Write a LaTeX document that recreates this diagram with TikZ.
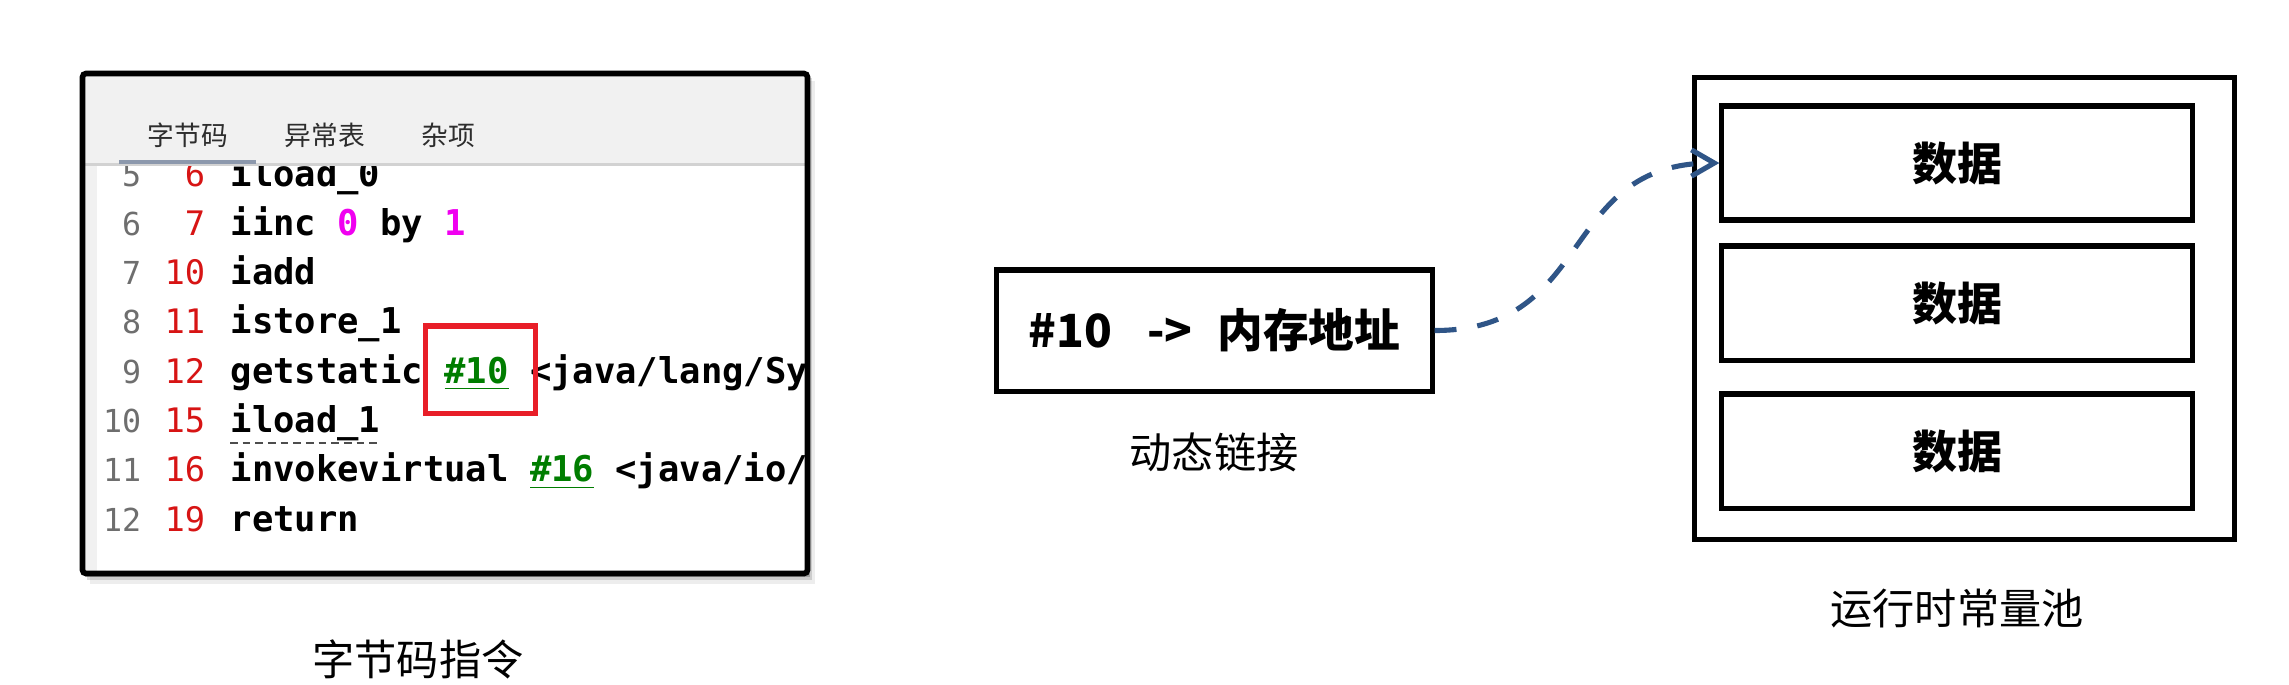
\documentclass[tikz,border=0pt]{standalone}
\usepackage{fontspec}
\setmainfont{Noto Sans CJK SC}
\newfontfamily\codefont{DejaVu Sans Mono}
\usetikzlibrary{arrows.meta}

\definecolor{linkblue}{RGB}{47,85,135}
\definecolor{lnogray}{RGB}{110,110,110}
\definecolor{offred}{RGB}{215,20,20}
\definecolor{constpink}{RGB}{240,0,240}
\definecolor{refgreen}{RGB}{0,125,0}
\definecolor{hlred}{RGB}{232,30,40}
\definecolor{hdgray}{RGB}{241,241,241}
\definecolor{hdline}{RGB}{210,210,210}
\definecolor{tabline}{RGB}{140,152,172}
\definecolor{tabgray}{RGB}{45,45,45}

\begin{document}
\begin{tikzpicture}[x={(0.01cm,0)},y={(0,-0.01cm)},
  >={Straight Barb[length=6.5pt,width=7.5pt]},
  lineno/.style={anchor=base east,inner sep=0pt,text=lnogray,font=\codefont\fontsize{9pt}{10pt}\selectfont},
  offset/.style={anchor=base east,inner sep=0pt,text=offred,font=\codefont\fontsize{9.6pt}{11pt}\selectfont},
  instr/.style={anchor=base west,inner sep=0pt,font=\codefont\bfseries\fontsize{10.1pt}{12pt}\selectfont},
  tab/.style={inner sep=0pt,text=tabgray,font=\fontsize{7.6pt}{9pt}\selectfont},
  caption/.style={inner sep=0pt,font=\fontsize{12pt}{14pt}\selectfont},
  linkbox/.style={draw,line width=1.45pt,minimum width=4.35cm,minimum height=1.21cm,inner sep=0pt,font=\bfseries\fontsize{13pt}{15pt}\selectfont},
  databox/.style={draw,line width=1.45pt,minimum width=4.70cm,minimum height=1.14cm,inner sep=0pt,font=\bfseries\fontsize{12.8pt}{15pt}\selectfont},
  linkarrow/.style={->,draw=linkblue,line width=1.45pt,dash pattern=on 6.2pt off 6pt}]
  \useasboundingbox (0,0) rectangle (2289,684);

  % screenshot of the bytecode view
  \foreach \d/\op in {2/0.22,4/0.14,7/0.07}
    \fill[black,opacity=\op] (82.5+\d,73.5+\d) rectangle (807.5+\d,573.5+1.5*\d);
  \fill[white] (82.5,73.5) rectangle (807.5,573.5);
  \begin{scope}
    \clip (82.5,73.5) rectangle (807.5,573.5);
    \fill[hdgray] (82.5,164) rectangle (97,573.5);
    \foreach \n/\o [count=\i from 0] in {5/6,6/7,7/10,8/11,9/12,10/15,11/16,12/19} {
      \node[lineno] (ln\n) at (142,186+49.3*\i) {\n};
      \node[offset] (off\n) at (206,186+49.3*\i) {\o};
    }
    \node[instr] (ins5) at (230,186) {iload\_0};
    \node[instr] (ins6) at (230,235.3) {iinc {\color{constpink}0} by {\color{constpink}1}};
    \node[instr] (ins7) at (230,284.6) {iadd};
    \node[instr] (ins8) at (230,333.9) {istore\_1};
    \node[instr] (ins9) at (230,383.2) {getstatic {\color{refgreen}\underline{\#10}} <java/lang/Sy};
    \node[instr] (ins10) at (230,432.5) {iload\_1};
    \node[instr] (ins11) at (230,481.8) {invokevirtual {\color{refgreen}\underline{\#16}} <java/io/};
    \node[instr] (ins12) at (230,531.1) {return};
    \draw[lnogray!70!black,line width=0.45pt,dash pattern=on 2.2pt off 1.4pt]
      ([yshift=-3pt]ins10.base west) -- ([yshift=-3pt]ins10.base east);
    \node[draw=hlred,line width=1.5pt,minimum width=1.10cm,minimum height=0.875cm,inner sep=0pt] (hl) at (480.5,369.8) {};
    % tab bar
    \fill[hdgray] (82.5,73.5) rectangle (807.5,164);
    \draw[hdline,line width=0.6pt] (82.5,164.5) -- (807.5,164.5);
    \draw[tabline,line width=1.1pt] (119,162) -- (256,162);
    \node[tab] (tab1) at (188,135) {字节码};
    \node[tab] (tab2) at (325,135) {异常表};
    \node[tab] (tab3) at (448,135) {杂项};
  \end{scope}
  \draw[line width=1.6pt,rounded corners=1pt] (82.5,73.5) rectangle (807.5,573.5);
  \node[caption] (cap1) at (418,659) {字节码指令};

  % dynamic link
  \node[linkbox] (addr) at (1214.5,330.5) {\#10\hspace{10pt}->\hspace{7pt}内存地址};
  \node[caption] (cap2) at (1214,452) {动态链接};

  % runtime constant pool
  \node[draw,line width=1.45pt,minimum width=5.40cm,minimum height=4.62cm,inner sep=0pt] (pool) at (1964.5,308.5) {};
  \node[databox] (d1) at (1957,163) {数据};
  \node[databox] (d2) at (1957,303) {数据};
  \node[databox] (d3) at (1957,451) {数据};
  \node[caption] (cap3) at (1957,609) {运行时常量池};

  \draw[linkarrow] (addr.east) to[out=0,in=180,looseness=1.25] (d1.west);
\end{tikzpicture}
\end{document}
